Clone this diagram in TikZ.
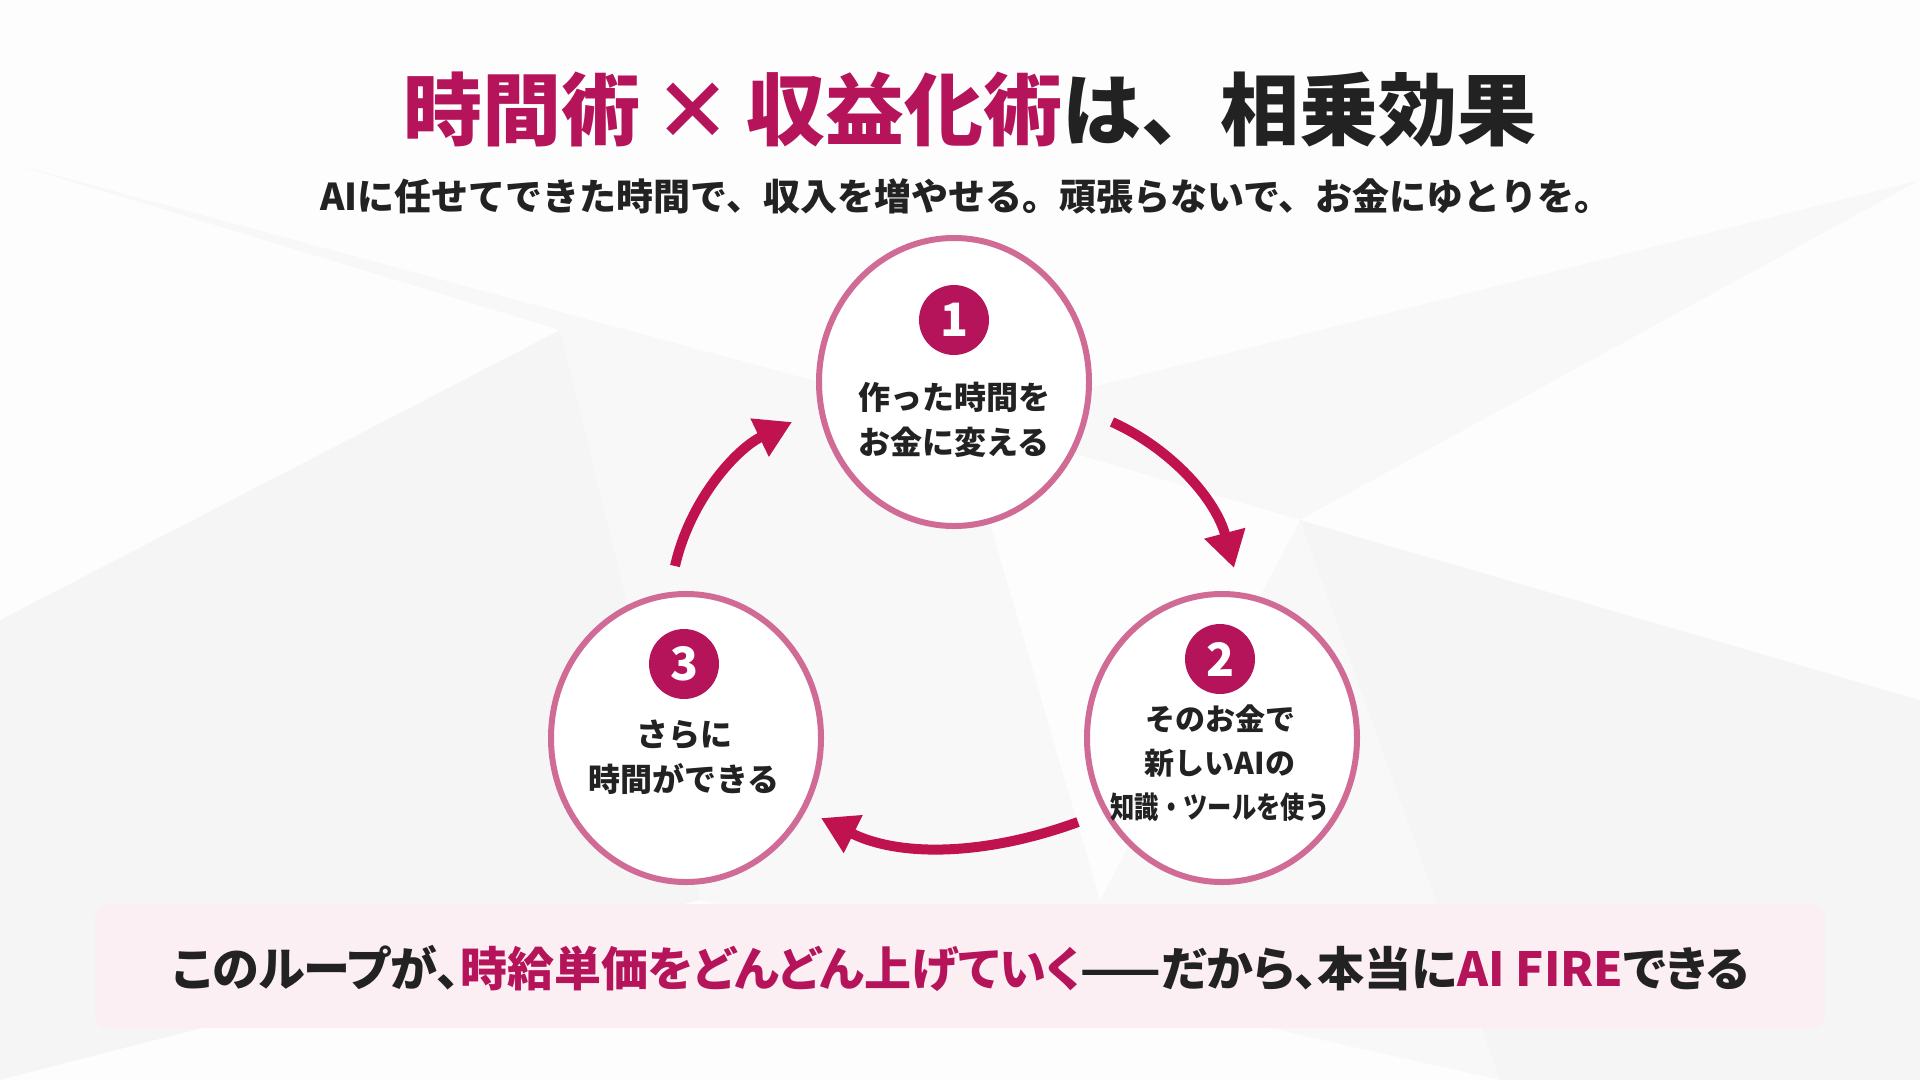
\documentclass[tikz,border=0pt]{standalone}
\usepackage{graphicx}
\usepackage{fontspec}
\setmainfont{Noto Sans CJK JP}
\newfontfamily\jpp{Noto Sans CJK JP}[RawFeature=+palt]
\usetikzlibrary{arrows.meta,shapes.geometric}
\definecolor{mag}{HTML}{B5145A}
\definecolor{arr}{HTML}{C0124E}
\definecolor{ringc}{HTML}{D06B95}
\definecolor{ink}{HTML}{222222}
\definecolor{band}{HTML}{FCEFF3}
\definecolor{bg}{HTML}{F8F8F9}
\begin{document}
\begin{tikzpicture}[x=1pt,y=-1pt,
  ringnode/.style={ellipse, draw=ringc, line width=6pt, fill=white, minimum width=270pt, minimum height=288pt, inner sep=0pt},
  badge/.style={circle, fill=mag, minimum size=70pt, inner sep=0pt, text=white, font=\fontsize{46}{46}\selectfont\bfseries},
  ctext/.style={align=center, text=ink, inner sep=0pt, font=\fontsize{32}{45}\selectfont\bfseries},
  flow/.style={draw=arr, line width=10pt, -{Triangle[length=36pt,width=40pt]}},
  facetlight/.style={fill=white, opacity=0.8},
  facetdark/.style={fill=black, opacity=0.012}
]
\useasboundingbox (0,0) rectangle (1920,1080);
% background
\fill[bg] (0,0) rectangle (1920,1080);
\fill[facetlight] (0,0) -- (1920,0) -- (1920,180) -- (960,420) -- (0,160) -- cycle;
\fill[facetlight] (1920,180) -- (1920,700) -- (1300,520) -- cycle;
\fill[facetlight] (0,160) -- (560,330) -- (0,620) -- cycle;
\fill[facetdark] (0,620) -- (560,330) -- (700,900) -- (0,1080) -- cycle;
\fill[facetdark] (1300,520) -- (1920,700) -- (1920,1080) -- (1500,1080) -- cycle;
\fill[facetlight] (700,900) -- (1500,1080) -- (0,1080) -- cycle;
\fill[facetlight] (960,420) -- (1300,520) -- (1100,900) -- cycle;

% title and subtitle
\node[text=ink, inner sep=0pt, font=\fontsize{79}{84}\selectfont\bfseries] (title) at (970,110)
  {{\color{mag}時間術\,×\,収益化術}は、相乗効果};
\node[text=ink, inner sep=0pt, font=\fontsize{37}{42}\selectfont\bfseries] (sub) at (966,196)
  {AIに任せてできた時間で、収入を増やせる。頑張らないで、お金にゆとりを。};

% rings
\node[ringnode] (c1) at (954,382) {};
\node[ringnode] (c2) at (1222,738) {};
\node[ringnode] (c3) at (686,738) {};

\node[badge] (b1) at (954,320) {1};
\node[badge] (b2) at (1220,659) {2};
\node[badge] (b3) at (684,664) {3};

\node[ctext] (t1) at (954,420) {作った時間を\\お金に変える};
\node[ctext, font=\fontsize{30}{44}\selectfont\bfseries] (t2) at (1220,763)
  {そのお金で\\新しいAIの\\\scalebox{0.81}[1]{知識・ツールを使う}};
\node[ctext] (t3) at (684,757) {さらに\\時間ができる};

% arrows
\coordinate (a1s) at (1112,422);
\coordinate (a1e) at (1234,568);
\coordinate (a2s) at (1078,822);
\coordinate (a2e) at (821,818);
\coordinate (a3s) at (675,566);
\coordinate (a3e) at (792,422);
\draw[flow] (a1s) .. controls (1172,449) and (1216,500) .. (a1e);
\draw[flow] (a2s) .. controls (988,855) and (901,858) .. (a2e);
\draw[flow] (a3s) .. controls (690,500) and (736,449) .. (a3e);

% bottom band
\node[fill=band, rounded corners=12pt, minimum width=1730pt, minimum height=124pt, inner sep=0pt] (band) at (960,966) {};
\node[text=ink, inner sep=0pt, font=\jpp\fontsize{47}{52}\selectfont\bfseries] (msg) at (961,968)
  {このループが、{\color{mag}時給単価をどんどん上げていく}——だから、本当に{\color{mag}AI FIRE}できる};
\end{tikzpicture}
\end{document}
